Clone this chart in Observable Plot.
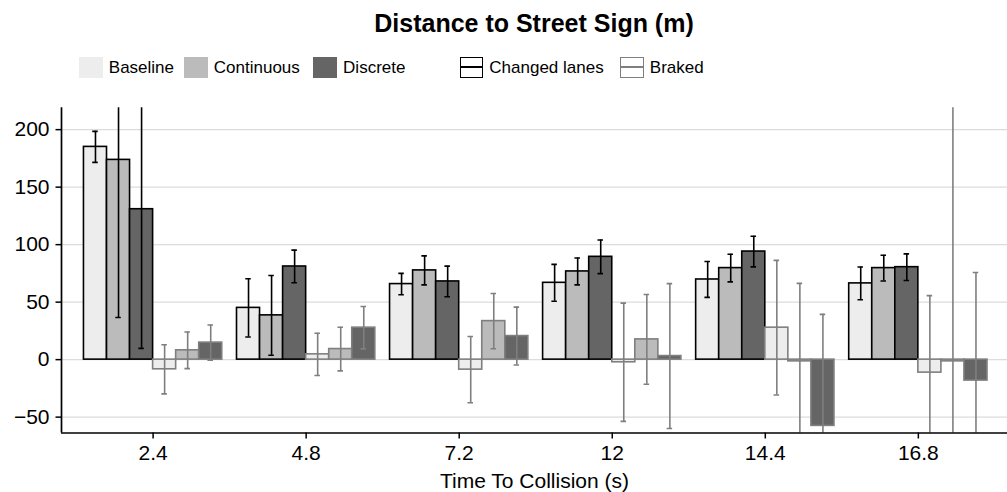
<!DOCTYPE html>
<html><head><meta charset="utf-8">
<script src="https://cdn.jsdelivr.net/npm/d3@7"></script>
<script src="https://cdn.jsdelivr.net/npm/@observablehq/plot@0.6"></script>
<style>
body{margin:0;background:#fff;font-family:"Liberation Sans",Arial,Helvetica,sans-serif;color:#000;}
#wrap{position:relative;width:1007px;height:492px;overflow:hidden;background:#fff;}
#title{position:absolute;left:61px;width:946px;top:8.5px;text-align:center;font-size:25px;font-weight:bold;line-height:28px;white-space:nowrap;}
.key{position:absolute;top:56.5px;width:23.5px;height:21px;box-sizing:border-box;}
.line{position:absolute;left:0;right:0;top:50%;height:1.6px;margin-top:-0.8px;}
.lt{position:absolute;top:57.6px;font-size:17px;line-height:19px;white-space:nowrap;}
#chart{position:absolute;left:0;top:88px;}
</style></head><body>
<div id="wrap"><div id="title"></div><div id="legend"></div><div id="chart"></div></div>
<script>
// ---- data ----
const title = "Distance to Street Sign (m)";
const xLabel = "Time To Collision (s)";
const ttcLabels = ["2.4", "4.8", "7.2", "12", "14.4", "16.8"];
const conditions = ["Baseline", "Continuous", "Discrete"];
const outcomes = ["Changed lanes", "Braked"];
const yTicks = [-50, 0, 50, 100, 150, 200];

// Changed lanes: mean and error (rows: Baseline, Continuous, Discrete)
const changedMean = [
  [185, 45, 65.7, 66.8, 69.7, 66.3],
  [173.7, 38.5, 77.6, 76.7, 79.6, 79.6],
  [130.8, 81, 68, 89.4, 94, 80.4]
];
const changedErr = [
  [13.5, 25.3, 9.3, 16, 15.6, 14.2],
  [137, 34.7, 12.6, 11.7, 12, 11.2],
  [121, 14.2, 13.3, 14.6, 13.3, 11.6]
];
// Braked: mean and error
const brakedMean = [
  [-8.4, 4.6, -8.7, -2.3, 27.8, -11.3],
  [8.1, 9.2, 33.5, 17.6, -1.5, -1.5],
  [14.8, 27.8, 20.5, 3.1, -57.6, -18.2]
];
const brakedErr = [
  [21.4, 18.4, 28.8, 51.4, 58.5, 67],
  [15.9, 19, 24, 39, 67.8, 300],
  [15.3, 18.4, 25.2, 63, 97, 94]
];

// ---- styles ----
const fills = ["#ededed", "#bbbbbb", "#656565"];
const outlineColors = ["#000000", "#7f7f7f"];
const barW = 0.1506;      // width of one bar in group units
const capHalf = 0.018;    // half width of error-bar caps
const xDomain = [-0.5985, 5.5825];
const yDomain = [-63.8, 219];

// ---- build table ----
const means = [changedMean, brakedMean];
const errs = [changedErr, brakedErr];
const rows = [];
outcomes.forEach((o, oi) => {
  conditions.forEach((c, ci) => {
    ttcLabels.forEach((t, i) => {
      const k = oi * 3 + ci;
      const m = means[oi][ci][i], e = errs[oi][ci][i];
      rows.push({outcome: o, cond: c, i, pos: i + (k - 2.5) * barW, mean: m, lo: m - e, hi: m + e});
    });
  });
});

document.getElementById("title").textContent = title;

// ---- legend ----
const legend = document.getElementById("legend");
const keyLeft = [79, 184, 313.3, 459.5, 620];
const items = [
  ...conditions.map((c, ci) => ({label: c, fill: fills[ci]})),
  ...outcomes.map((o, oi) => ({label: o, outline: outlineColors[oi]}))
];
items.forEach((it, j) => {
  const k = document.createElement("div");
  k.className = "key";
  k.style.left = keyLeft[j] + "px";
  if (it.fill) k.style.background = it.fill;
  else {
    k.style.background = "#fff";
    k.style.border = "1.6px solid " + it.outline;
    const l = document.createElement("div");
    l.className = "line";
    l.style.background = it.outline;
    k.appendChild(l);
  }
  legend.appendChild(k);
  const t = document.createElement("div");
  t.className = "lt";
  t.style.left = (keyLeft[j] + 29.8) + "px";
  t.textContent = it.label;
  legend.appendChild(t);
});

// ---- chart ----
const marks = [
  Plot.ruleY(yTicks, {stroke: "#dcdcdc", strokeWidth: 1.2})
];
outcomes.forEach((o, oi) => {
  const data = rows.filter(d => d.outcome === o);
  marks.push(
    Plot.rectY(data, {
      x1: d => d.pos - barW / 2, x2: d => d.pos + barW / 2,
      y1: 0, y2: "mean", fill: "cond",
      stroke: outlineColors[oi], strokeWidth: 1.6, clip: true
    })
  );
});
outcomes.forEach((o, oi) => {
  const data = rows.filter(d => d.outcome === o);
  const st = {stroke: outlineColors[oi], strokeWidth: 1.6, clip: true};
  marks.push(
    Plot.ruleX(data, {x: "pos", y1: "lo", y2: "hi", ...st}),
    Plot.ruleY(data, {y: "hi", x1: d => d.pos - capHalf, x2: d => d.pos + capHalf, ...st}),
    Plot.ruleY(data, {y: "lo", x1: d => d.pos - capHalf, x2: d => d.pos + capHalf, ...st})
  );
});
marks.push(
  Plot.ruleX([xDomain[0]], {stroke: "#000", strokeWidth: 1.7}),
  Plot.ruleY([yDomain[0]], {stroke: "#000", strokeWidth: 1.7}),
  Plot.axisY({ticks: yTicks, tickSize: 5.5, tickPadding: 6.5, label: null, strokeWidth: 1.5}),
  Plot.axisX({ticks: d3.range(ttcLabels.length), tickFormat: i => ttcLabels[i], tickSize: 6, tickPadding: 6.5,
    strokeWidth: 1.5, label: xLabel, labelAnchor: "center", labelArrow: "none", labelOffset: 54.5})
);

const chart = Plot.plot({
  width: 1007,
  height: 404,
  marginTop: 19.3,
  marginBottom: 59.5,
  marginLeft: 61,
  marginRight: 0,
  style: {fontFamily: "'Liberation Sans', Arial, sans-serif", fontSize: "21px", background: "#fff", color: "#000"},
  x: {type: "linear", domain: xDomain},
  y: {domain: yDomain},
  color: {domain: conditions, range: fills},
  marks
});
document.getElementById("chart").appendChild(chart);
</script>
</body></html>
